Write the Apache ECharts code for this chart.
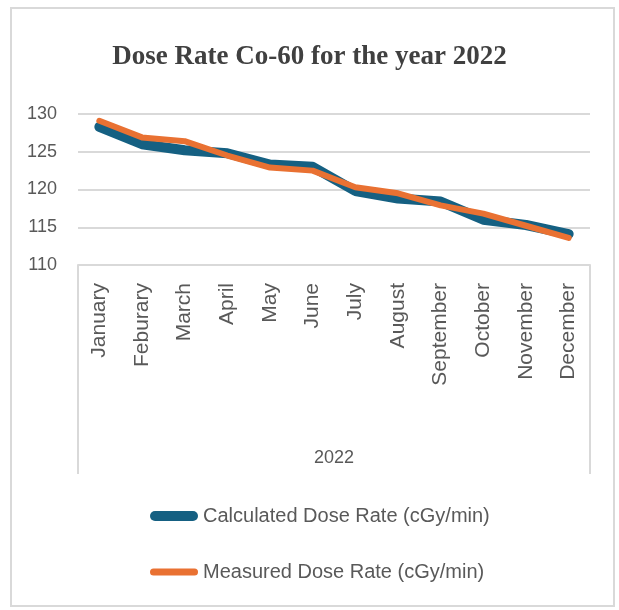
<!DOCTYPE html>
<html>
<head>
<meta charset="utf-8">
<script src="https://cdn.jsdelivr.net/npm/echarts@6/dist/echarts.min.js"></script>
<style>
html,body{margin:0;padding:0;background:#fff;}
#chart{width:619px;height:610px;}
</style>
</head>
<body>
<div id="chart"></div>
<script>
const months = ["January","Feburary","March","April","May","June","July","August","September","October","November","December"];
const calculated = [128.3, 126.0, 125.2, 124.8, 123.3, 123.0, 119.8, 118.8, 118.4, 116.0, 115.3, 114.1];
const measured = [129.1, 126.9, 126.4, 124.5, 122.9, 122.5, 120.3, 119.5, 117.9, 116.8, 115.2, 113.6];
const yTicks = [110, 115, 120, 125, 130];
const seriesNames = ["Calculated Dose Rate (cGy/min)", "Measured Dose Rate (cGy/min)"];
const groupLabel = "2022";
const titleText = "Dose Rate Co-60 for the year 2022";

const W = 619, H = 610;
const gLeft = 78, gRight = 590, gTop = 114, gBottom = 265, boxBottom = 474;
const grayLine = '#d9d9d9';
const textGray = '#595959';
const pillThick = 'path://M5,0 L43,0 A5,5 0 0 1 43,10 L5,10 A5,5 0 0 1 5,0 Z';
const pillThin = 'path://M3.5,0 L44.5,0 A3.5,3.5 0 0 1 44.5,7 L3.5,7 A3.5,3.5 0 0 1 3.5,0 Z';

const chart = echarts.init(document.getElementById('chart'));
chart.setOption({
  backgroundColor: '#fff',
  animation: false,
  title: {
    text: titleText,
    left: 'center',
    top: 39,
    textStyle: {fontFamily: 'Liberation Serif', fontWeight: 'bold', fontSize: 27, color: '#404040'}
  },
  legend: [
    {
      data: [seriesNames[0]], left: 150, top: 506, orient: 'vertical', padding: 0,
      icon: pillThick, itemWidth: 48, itemHeight: 10,
      textStyle: {fontFamily: 'Liberation Sans', fontSize: 20, color: textGray}
    },
    {
      data: [seriesNames[1]], left: 150, top: 562, orient: 'vertical', padding: 0,
      icon: pillThin, itemWidth: 48, itemHeight: 7,
      textStyle: {fontFamily: 'Liberation Sans', fontSize: 20, color: textGray}
    }
  ],
  grid: {left: gLeft, right: W - gRight, top: gTop, bottom: H - gBottom, containLabel: false},
  xAxis: {
    type: 'category',
    data: months,
    boundaryGap: true,
    axisLine: {lineStyle: {color: grayLine, width: 2}},
    axisTick: {show: false},
    axisLabel: {rotate: 90, margin: 18, fontFamily: 'Liberation Sans', fontSize: 21, color: textGray, interval: 0},
    name: groupLabel,
    nameLocation: 'middle',
    nameGap: 184,
    nameTextStyle: {fontFamily: 'Liberation Sans', fontSize: 18, color: textGray}
  },
  yAxis: {
    type: 'value',
    min: yTicks[0],
    max: yTicks[yTicks.length - 1],
    interval: yTicks[1] - yTicks[0],
    axisLine: {show: false},
    axisTick: {show: false},
    splitLine: {lineStyle: {color: grayLine, width: 2}},
    axisLabel: {margin: 21, fontFamily: 'Liberation Sans', fontSize: 18, color: textGray}
  },
  graphic: [
    {type: 'rect', shape: {x: 11, y: 8, width: 603, height: 598}, style: {fill: 'none', stroke: grayLine, lineWidth: 2}, z: -1},
    {type: 'line', shape: {x1: gLeft, y1: gBottom, x2: gLeft, y2: boxBottom}, style: {stroke: grayLine, lineWidth: 2}},
    {type: 'line', shape: {x1: gRight, y1: gBottom, x2: gRight, y2: boxBottom}, style: {stroke: grayLine, lineWidth: 2}}
  ],
  series: [
    {
      name: seriesNames[0], type: 'line', data: calculated, symbol: 'none',
      lineStyle: {color: '#156082', width: 10, cap: 'round', join: 'round'},
      itemStyle: {color: '#156082'}
    },
    {
      name: seriesNames[1], type: 'line', data: measured, symbol: 'none',
      lineStyle: {color: '#E97132', width: 6, cap: 'round', join: 'round'},
      itemStyle: {color: '#E97132'}
    }
  ]
});
</script>
</body>
</html>
